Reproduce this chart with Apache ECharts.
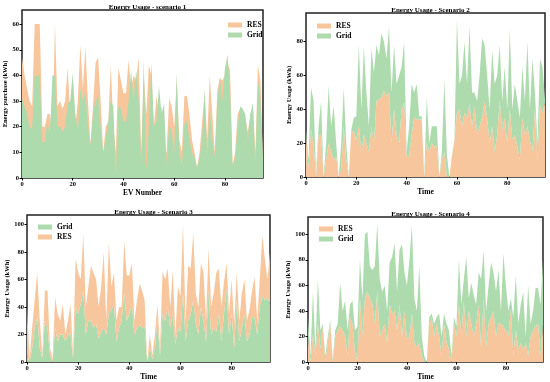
<!DOCTYPE html>
<html><head><meta charset="utf-8">
<script src="https://cdn.jsdelivr.net/npm/echarts@6/dist/echarts.min.js"></script>
<style>html,body{margin:0;padding:0;background:#fff}#c{width:550px;height:382px}</style>
</head><body><div id="c"></div>
<script>
// Scenario 1 (overlapping, not stacked)
const res1=[47,40,35,30,28,60,60,60,20,20,25,25,17,60,28,30,27,30,43,25,7,20,30,52,35,51,30,13,28,45,47,30,10,20,22,44,20,10,43,38,33,33,46,35,40,38,47,10,40,25,44,40,20,32,25,28,10,10,31,28,20,38,15,10,32,32,25,15,10,4,10,22,33,15,40,25,10,34,39,38,40,45,42,5,10,25,27,26,24,18,24,29,10,44,38,6];
const grid1=[31,28,25,20,19,40,40,40,14,14,22,17,40,40,20,20,18,20,29,30,41,25,18,35,30,34,20,13,25,30,32,20,10,15,22,30,28,1,28,27,22,22,30,42,30,42,30,5,46,2,20,45,20,22,36,25,29,5,21,18,10,41,10,5,21,22,15,10,8,4,8,15,35,8,27,15,8,30,39,30,43,48,35,5,7,20,28,27,25,15,25,29,5,38,30,7];
// Scenario 2 (stacked: RES then Grid)
const res2=[25,5,28,20,0,25,25,0,10,20,15,10,12,0,5,30,10,0,27,27,22,30,15,25,20,15,30,20,45,46,47,51,48,50,20,40,25,20,40,44,12,12,25,35,34,34,34,0,20,15,20,18,18,0,10,15,0,0,12,22,38,40,30,38,35,43,30,42,25,30,35,45,35,20,30,15,25,45,28,35,20,40,22,25,18,10,35,25,30,22,15,40,10,42,38,44];
const gridS2=[3,5,25,25,3,5,20,0,10,34,15,32,8,0,15,23,10,0,1,8,14,48,25,52,30,15,46,42,33,26,38,29,22,39,30,38,30,40,25,36,3,18,30,15,21,2,2,0,27,5,10,12,12,0,5,43,13,0,1,0,55,15,30,42,20,46,20,8,20,30,47,33,25,20,45,40,35,33,17,30,20,48,18,30,27,25,30,20,50,18,55,10,10,28,27,2];
// Scenario 3 (stacked: Grid then RES)
const grid3=[5,0,10,25,33,10,3,30,25,5,0,25,15,20,20,15,20,20,3,40,35,42,52,20,30,30,25,28,17,22,25,20,35,38,42,15,25,30,50,30,35,42,20,25,27,25,26,0,10,2,10,30,5,35,30,40,25,35,13,25,22,50,15,30,35,45,28,20,40,30,15,52,20,25,22,35,15,35,53,20,35,10,45,15,25,35,15,20,33,32,20,40,48,45,47,42];
const res3=[35,2,15,20,32,20,2,22,27,5,2,22,20,10,22,5,10,22,2,35,30,18,41,20,25,40,40,32,23,33,55,10,52,17,23,15,15,10,38,33,28,30,10,20,30,27,19,0,10,3,10,12,5,31,30,28,15,32,7,30,26,50,15,40,33,49,22,20,32,35,15,31,20,25,43,33,25,23,19,15,25,18,20,15,25,25,15,18,19,30,10,20,44,30,13,38];
// Scenario 4 (stacked: RES then Grid)
const res4=[20,0,22,5,30,10,28,0,15,30,0,20,25,28,25,20,5,35,30,8,0,50,20,50,55,50,45,30,55,20,25,30,15,45,38,40,25,45,20,40,18,20,38,15,12,15,5,0,0,30,35,20,30,20,5,30,15,10,0,30,20,45,20,48,20,40,30,20,30,45,10,50,12,30,35,40,20,30,30,28,25,20,42,5,25,10,15,10,15,5,20,25,28,30,5,30];
const grid4=[15,5,33,5,35,15,2,5,5,3,2,5,5,34,15,28,20,10,18,17,28,30,30,50,47,25,27,45,53,45,30,30,25,33,44,53,30,43,72,30,42,60,69,35,28,60,15,5,0,5,3,10,5,18,15,8,15,15,5,5,8,35,25,17,62,10,32,32,15,25,55,37,28,30,43,30,35,42,10,57,35,20,8,30,43,20,30,45,5,55,10,15,30,28,40,50];

const xTicks=[0,20,40,60,80];
const yTicks1=[0,10,20,30,40,50,60];
const yTicks2=[0,20,40,60,80];
const yTicks3=[0,20,40,60,80,100];
const yTicks4=[0,20,40,60,80,100];

const ORANGE='#F8C69C', GREEN='#AEDBAE';
const FONT='"Liberation Serif", "Times New Roman", serif';
const xCats=res1.map((_,k)=>String(k));

const panels=[
  {title:'Energy Usage - scenario 1', left:22, top:10, w:241, h:168, ymax:65.5, yt:yTicks1, xname:'EV Number', yname:'Energy purchase (kWh)', ynGap:13, xnGap:11,
   series:[['RES',res1,ORANGE],['Grid',grid1,GREEN]], stack:false, legend:{left:223, top:15, data:['RES','Grid']}},
  {title:'Energy Usage - Scenario 2', left:306, top:13, w:239, h:164, ymax:97, yt:yTicks2, xname:'Time', yname:'Energy Usage (kWh)', ynGap:13, xnGap:11,
   series:[['RES',res2,ORANGE],['Grid',gridS2,GREEN]], stack:true, legend:{left:312, top:16, data:['RES','Grid']}},
  {title:'Energy Usage - Scenario 3', left:27, top:215, w:243, h:149, ymax:107, yt:yTicks3, xname:'Time', yname:'Energy Usage (kWh)', ynGap:16, xnGap:9,
   series:[['Grid',grid3,GREEN],['RES',res3,ORANGE]], stack:true, legend:{left:33, top:217, data:['Grid','RES']}},
  {title:'Energy Usage - Scenario 4', left:308, top:217, w:235, h:146, ymax:113.5, yt:yTicks4, xname:'Time', yname:'Energy Usage (kWh)', ynGap:15, xnGap:9,
   series:[['RES',res4,ORANGE],['Grid',grid4,GREEN]], stack:true, legend:{left:314, top:219, data:['RES','Grid']}}
];

const showX=(idx)=>xTicks.indexOf(idx)>=0;
const option={animation:false, backgroundColor:'#fff', title:[], grid:[], xAxis:[], yAxis:[], legend:[], series:[]};
panels.forEach((p,i)=>{
  option.title.push({text:p.title, left:p.left+p.w/2, top:p.top-11, textAlign:'center',
    textStyle:{fontFamily:FONT, fontWeight:'bold', fontSize:7, color:'#000'}});
  option.grid.push({left:p.left, top:p.top, width:p.w, height:p.h, show:true, borderColor:'#222', borderWidth:1.5, backgroundColor:'transparent'});
  option.xAxis.push({type:'category', data:xCats, boundaryGap:false, gridIndex:i, name:p.xname, nameLocation:'middle', nameGap:p.xnGap,
    nameTextStyle:{fontFamily:FONT, fontWeight:'bold', fontSize:7.5, color:'#000'},
    axisLine:{show:false}, splitLine:{show:false},
    axisTick:{show:true, length:2.5, lineStyle:{color:'#000', width:1}, interval:showX},
    axisLabel:{fontFamily:FONT, fontWeight:'bold', fontSize:6.5, color:'#000', margin:3, interval:showX}});
  option.yAxis.push({type:'value', gridIndex:i, min:0, max:p.ymax, name:p.yname, nameLocation:'middle', nameGap:p.ynGap, nameRotate:90,
    nameTextStyle:{fontFamily:FONT, fontWeight:'bold', fontSize:6.5, color:'#000'},
    axisLine:{show:false}, splitLine:{show:false},
    axisTick:{show:true, length:2.5, lineStyle:{color:'#000', width:1}, customValues:p.yt},
    axisLabel:{fontFamily:FONT, fontWeight:'bold', fontSize:6.5, color:'#000', margin:3, customValues:p.yt}});
  option.legend.push({left:p.legend.left, top:p.legend.top, orient:'vertical', itemGap:0, itemWidth:14, itemHeight:5,
    icon:'rect', data:p.legend.data.map(n=>({name:n, itemStyle:{color:n==='RES'?ORANGE:GREEN}})),
    textStyle:{fontFamily:FONT, fontWeight:'bold', fontSize:7.5, color:'#000', lineHeight:10}, selectedMode:false});
  p.series.forEach(([name,vals,col])=>{
    option.series.push({type:'line', name:name, xAxisIndex:i, yAxisIndex:i, stack:p.stack?('s'+i):undefined,
      data:vals, showSymbol:false, symbol:'none', lineStyle:{width:0}, itemStyle:{color:col},
      areaStyle:{color:col, opacity:1}, silent:true});
  });
});
const chart=echarts.init(document.getElementById('c'), null, {renderer:'canvas'});
chart.setOption(option);
</script>
</body></html>
